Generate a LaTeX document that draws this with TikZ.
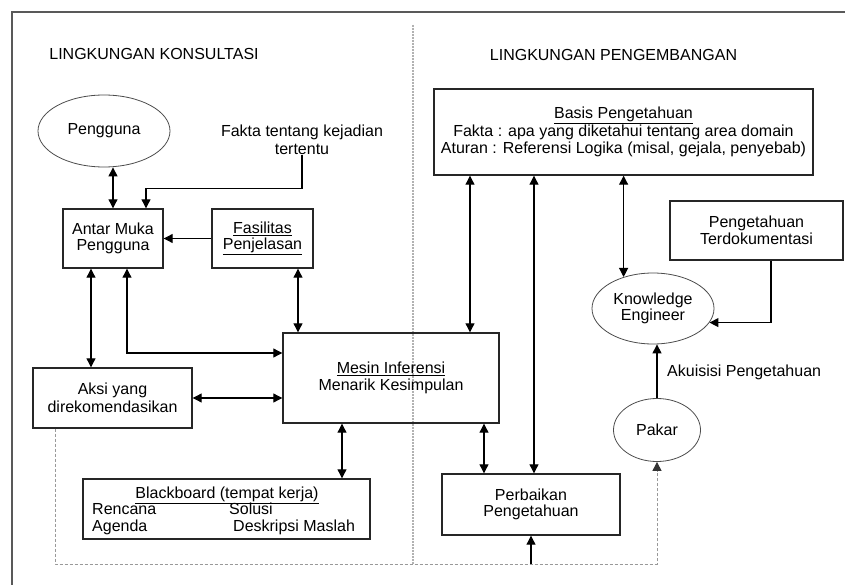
\documentclass[tikz,border=0pt]{standalone}
\usepackage{fontspec}
\setmainfont{Liberation Sans}
\usetikzlibrary{arrows.meta,shapes.geometric,calc}
\newcommand\dfont{\fontsize{16}{16.5}\selectfont}
\newcommand\dfontw{\fontsize{16}{18}\selectfont}
\begin{document}
\begin{tikzpicture}[x=1pt,y=-1pt,
  box/.style={draw=black!85,line width=1.4pt,align=center,inner sep=0pt,font=\dfont},
  ell/.style={ellipse,draw=black!70,line width=0.8pt,inner sep=0pt,align=center,font=\dfont},
  lbl/.style={font=\dfont,inner sep=0pt},
  tip/.tip={Triangle[length=9pt,width=9pt]},
  conn/.style={line width=1.1pt,-tip},
  conn2/.style={line width=1.1pt,tip-tip},
  ]
\useasboundingbox (0,0) rectangle (845,585);
\fill[white] (0,0) rectangle (845,585);
% frame and divider
\draw[black!65,line width=2pt] (12,585) -- (12,12) -- (845,12);
\draw[black!30,line width=1.5pt,dash pattern=on 2pt off 1pt] (413,25) -- (413,564);

% titles
\node[lbl] (lk) at (154,54) {LINGKUNGAN KONSULTASI};
\node[lbl] (lp) at (613.5,55) {LINGKUNGAN PENGEMBANGAN};

% nodes
\node[ell,minimum width=132pt,minimum height=72pt] (peng) at (104,131) {Pengguna};
\node[lbl,font=\dfontw,align=center] (fakta) at (302,140) {Fakta tentang kejadian\\tertentu};
\node[box,minimum width=100pt,minimum height=59pt] (am) at (113,238.5) {Antar Muka\\Pengguna};
\node[box,minimum width=101pt,minimum height=59pt] (fas) at (262.5,238.5) {\underline{Fasilitas}\\\underline{Penjelasan}};
\node[box,minimum width=216pt,minimum height=90pt] (mesin) at (391,378) {\underline{Mesin Inferensi}\\Menarik Kesimpulan};
\node[box,font=\dfontw,minimum width=159pt,minimum height=60pt] (aksi) at (112.5,398) {Aksi yang\\direkomendasikan};
\node[box,minimum width=287pt,minimum height=60pt] (bb) at (226.5,509) {};
\node[lbl,anchor=base] (bbt) at (227,498) {\underline{Blackboard (tempat kerja)}};
\node[lbl,anchor=base west] (bb1) at (92,514.5) {Rencana};
\node[lbl,anchor=base west] (bb2) at (229,514.5) {Solusi};
\node[lbl,anchor=base west] (bb3) at (92,531.5) {Agenda};
\node[lbl,anchor=base west] (bb4) at (233,531.5) {Deskripsi Maslah};

\node[box,minimum width=379pt,minimum height=86pt] (basis) at (623.5,132) {\underline{Basis Pengetahuan}\\Fakta : apa yang diketahui tentang area domain\\Aturan : Referensi Logika (misal, gejala, penyebab)};
\node[box,minimum width=173pt,minimum height=59pt] (doc) at (756.5,230.5) {Pengetahuan\\Terdokumentasi};
\node[ell,minimum width=122pt,minimum height=71pt] (ke) at (653,308.5) {Knowledge\\Engineer};
\node[ell,minimum width=87pt,minimum height=63pt] (pakar) at (657,430) {Pakar};
\node[box,minimum width=178pt,minimum height=61pt] (perb) at (531,504.5) {Perbaikan\\Pengetahuan};
\node[lbl,anchor=west] (akui) at (667,372) {Akuisisi Pengetahuan};

\coordinate (c1) at (55,564);

% connectors
\draw[conn2] (peng.south -| am.north) -- (am.north);
\draw[conn] (fakta.south) -- ++(0,33) -| ([xshift=33pt]am.north);
\draw[conn] (fas.west) -- (am.east);
\draw[conn2] ([xshift=-22pt]am.south) -- ([xshift=-22pt]am.south |- aksi.north);
\draw[conn2] ([xshift=14pt]am.south) |- ([yshift=25pt]mesin.west);
\draw[conn2] ([xshift=35.5pt]fas.south) -- ([xshift=35.5pt]fas.south |- mesin.north);
\draw[conn2] (aksi.east) -- (aksi.east -| mesin.west);
\draw[conn2] ([xshift=-49pt]mesin.south) -- ([xshift=-49pt]mesin.south |- bb.north);
\draw[conn2] ([xshift=93pt]mesin.south) -- ([xshift=93pt]mesin.south |- perb.north);
\draw[conn2] ([xshift=-153.5pt]basis.south) -- ([xshift=-153.5pt]basis.south |- mesin.north);
\draw[conn2] ([xshift=-89.5pt]basis.south) -- ([xshift=-89.5pt]basis.south |- perb.north);
\draw[conn2] (basis.south -| ke.133) -- (ke.133);
\draw[conn] ([xshift=14.5pt]doc.south) |- (ke.-14);
\draw[conn] (pakar.north) -- (pakar.north |- ke.south);
\draw[conn] (c1 -| perb.south) -- (perb.south);
\draw[black!40,line width=1pt,dash pattern=on 3pt off 2pt,-{Triangle[length=9pt,width=9pt,color=black!80]}]
  (c1 |- aksi.south) -- (c1) -| (pakar.south);
\end{tikzpicture}
\end{document}
